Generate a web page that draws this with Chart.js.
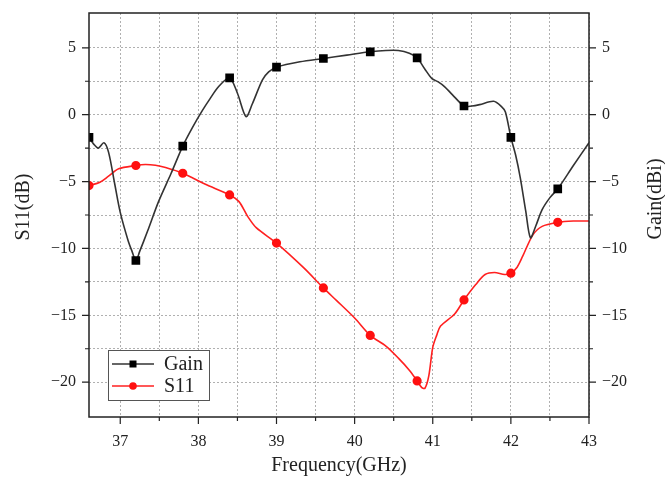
<!DOCTYPE html>
<html>
<head>
<meta charset="utf-8">
<script src="https://cdn.jsdelivr.net/npm/chart.js@4.4.0/dist/chart.umd.min.js"></script>
<style>
  html, body { margin: 0; padding: 0; background: #fff; }
  #wrap { width: 665px; height: 477px; }
</style>
</head>
<body>
<div id="wrap"><canvas id="c"></canvas></div>
<script>
// Gain (dBi)
const gainFreq = [36.6, 36.66, 36.72, 36.79, 36.85, 36.93, 37.0, 37.1, 37.15, 37.2, 37.25, 37.35, 37.49, 37.65, 37.8,
  37.92, 38.05, 38.15, 38.26, 38.4, 38.5, 38.61, 38.69, 38.82, 38.9, 39.0, 39.3, 39.6, 39.9, 40.2, 40.4, 40.56, 40.7,
  40.8, 40.9, 40.99, 41.07, 41.15, 41.25, 41.4, 41.5, 41.6, 41.78, 41.88, 41.93, 42.0, 42.06, 42.12, 42.19, 42.25,
  42.32, 42.4, 42.5, 42.6, 42.8, 43.0];
const gainVals = [-1.7, -2.2, -2.5, -2.1, -2.8, -5.2, -7.3, -9.4, -10.2, -10.9, -10.2, -8.7, -6.5, -4.4, -2.35,
  -1.0, 0.3, 1.2, 2.1, 2.75, 1.6, -0.15, 0.8, 2.6, 3.2, 3.55, 3.95, 4.2, 4.45, 4.7, 4.8, 4.8, 4.6,
  4.25, 3.4, 2.7, 2.45, 2.1, 1.5, 0.65, 0.65, 0.75, 1.0, 0.6, 0.2, -1.7, -3.0, -4.7, -7.2, -9.2,
  -8.3, -7.1, -6.2, -5.55, -3.8, -2.1];

// S11 (dB)
const s11Freq = [36.6, 36.74, 36.85, 36.98, 37.2, 37.32, 37.45, 37.58, 37.8, 38.09, 38.4, 38.52, 38.63, 38.74, 39.0,
  39.34, 39.6, 39.77, 40.0, 40.2, 40.4, 40.56, 40.7, 40.8, 40.86, 40.9, 40.95, 41.0, 41.05, 41.1, 41.28, 41.4,
  41.55, 41.67, 41.79, 41.92, 42.0, 42.08, 42.15, 42.28, 42.4, 42.6, 42.8, 43.0];
const s11Vals = [-5.3, -5.05, -4.6, -4.05, -3.8, -3.72, -3.78, -3.95, -4.38, -5.2, -6.0, -6.5, -7.6, -8.45, -9.6,
  -11.4, -12.95, -13.9, -15.2, -16.5, -17.3, -18.2, -19.1, -19.9, -20.4, -20.45, -19.5, -17.4, -16.5, -15.8, -14.9, -13.85,
  -12.7, -11.95, -11.8, -11.95, -11.85, -11.4, -10.6, -9.0, -8.35, -8.05, -7.95, -7.95];

// symbols are only drawn at these frequencies
const markerFreq = [36.6, 37.2, 37.8, 38.4, 39.0, 39.6, 40.2, 40.8, 41.4, 42.0, 42.6];

const xGrid = [37, 37.5, 38, 38.5, 39, 39.5, 40, 40.5, 41, 41.5, 42, 42.5, 43];
const xLabels = [37, 38, 39, 40, 41, 42, 43];
const yGrid = [5, 2.5, 0, -2.5, -5, -7.5, -10, -12.5, -15, -17.5, -20];
const yLabels = [5, 0, -5, -10, -15, -20];

const TICK_FONT = { family: '"Liberation Serif", "DejaVu Serif", serif', size: 16 };
const TEXT_FONT = '20px "Liberation Serif", "DejaVu Serif", serif';

const toPoints = (xs, ys) => xs.map((x, i) => ({ x: x, y: ys[i] }));
const isMarker = ctx => markerFreq.includes(ctx.raw && ctx.raw.x);

const fixTicks = values => scale => { scale.ticks = values.map(v => ({ value: v })); };
const minus = v => String(v).replace('-', '\u2212');
// fixed box size, and no extra room asked for overflowing labels
const fixSize = (w, h) => s => {
  if (w) s.width = w;
  if (h) s.height = h;
  s.paddingTop = s.paddingBottom = s.paddingLeft = s.paddingRight = 0;
};

// frame, tick marks, axis titles and the inset legend
const decorations = {
  id: 'decorations',
  afterDraw(chart) {
    const { ctx, chartArea: a } = chart;
    const { x, y, y2 } = chart.scales;
    ctx.save();
    ctx.strokeStyle = '#222';
    ctx.lineWidth = 1.5;
    ctx.strokeRect(a.left, a.top, a.right - a.left, a.bottom - a.top);

    ctx.lineWidth = 1.2;
    ctx.beginPath();
    xGrid.forEach(v => {
      const px = x.getPixelForValue(v);
      const len = xLabels.includes(v) ? 7 : 4;
      ctx.moveTo(px, a.bottom); ctx.lineTo(px, a.bottom + len);
    });
    yGrid.forEach(v => {
      const len = yLabels.includes(v) ? 7 : 4;
      const py = y.getPixelForValue(v);
      ctx.moveTo(a.left, py); ctx.lineTo(a.left - len, py);
      const py2 = y2.getPixelForValue(v);
      ctx.moveTo(a.right, py2); ctx.lineTo(a.right + len, py2);
    });
    ctx.stroke();

    // axis titles
    ctx.fillStyle = '#222';
    ctx.font = TEXT_FONT;
    ctx.textAlign = 'center';
    ctx.textBaseline = 'middle';
    ctx.fillText('Frequency(GHz)', (a.left + a.right) / 2, 466);
    ctx.save();
    ctx.translate(24, 207);
    ctx.rotate(-Math.PI / 2);
    ctx.fillText('S11(dB)', 0, 0);
    ctx.restore();
    ctx.save();
    ctx.translate(656, 199);
    ctx.rotate(-Math.PI / 2);
    ctx.fillText('Gain(dBi)', 0, 0);
    ctx.restore();

    // legend box
    const lx = 108, ly = 350, lw = 101, lh = 50;
    ctx.fillStyle = '#fff';
    ctx.fillRect(lx, ly, lw, lh);
    ctx.strokeStyle = '#555';
    ctx.lineWidth = 1;
    ctx.strokeRect(lx + 0.5, ly + 0.5, lw, lh);
    chart.data.datasets.forEach((ds, i) => {
      const cy = ly + 14 + i * 22;
      ctx.strokeStyle = ds.borderColor;
      ctx.lineWidth = 1.6;
      ctx.beginPath();
      ctx.moveTo(lx + 4, cy); ctx.lineTo(lx + 46, cy);
      ctx.stroke();
      ctx.fillStyle = ds.pointBackgroundColor;
      if (ds.pointStyle === 'rect') {
        ctx.fillRect(lx + 25 - 3.5, cy - 3.5, 7, 7);
      } else {
        ctx.beginPath();
        ctx.arc(lx + 25, cy, 3.8, 0, Math.PI * 2);
        ctx.fill();
      }
      ctx.fillStyle = '#222';
      ctx.textAlign = 'left';
      ctx.fillText(ds.label, lx + 56, cy + 1);
    });
    ctx.restore();
  }
};

new Chart(document.getElementById('c'), {
  type: 'line',
  data: {
    datasets: [
      {
        label: 'Gain',
        data: toPoints(gainFreq, gainVals),
        yAxisID: 'y2',
        borderColor: '#333333',
        borderWidth: 1.6,
        pointStyle: 'rect',
        pointBackgroundColor: '#000000',
        pointBorderColor: '#000000',
        pointRadius: ctx => isMarker(ctx) ? 5 : 0,
        tension: 0.3,
      },
      {
        label: 'S11',
        data: toPoints(s11Freq, s11Vals),
        yAxisID: 'y',
        borderColor: '#ff2020',
        borderWidth: 1.6,
        pointStyle: 'circle',
        pointBackgroundColor: '#ff1010',
        pointBorderColor: '#ff1010',
        pointRadius: ctx => isMarker(ctx) ? 3.8 : 0,
        tension: 0.3,
      },
    ],
  },
  options: {
    responsive: true,
    maintainAspectRatio: false,
    animation: false,
    layout: { autoPadding: false, padding: { top: 13, left: 0, right: 0, bottom: 0 } },
    plugins: { legend: { display: false }, tooltip: { enabled: false } },
    elements: { point: { hitRadius: 0, hoverRadius: 0 } },
    scales: {
      x: {
        type: 'linear',
        min: 36.6,
        max: 43,
        afterBuildTicks: fixTicks(xGrid),
        afterFit: fixSize(0, 60),
        grid: { color: '#b0b0b0', lineWidth: 1, drawTicks: false },
        border: { display: false, dash: [2, 2] },
        ticks: {
          padding: 15,
          color: '#222',
          font: TICK_FONT,
          maxRotation: 0,
          autoSkip: false,
          callback: v => xLabels.includes(v) ? String(v) : '',
        },
      },
      y: {
        position: 'left',
        min: -22.6,
        max: 7.6,
        afterBuildTicks: fixTicks(yGrid),
        afterFit: fixSize(89, 0),
        grid: { color: '#b0b0b0', lineWidth: 1, drawTicks: false },
        border: { display: false, dash: [2, 2] },
        ticks: {
          padding: 13,
          color: '#222',
          font: TICK_FONT,
          autoSkip: false,
          callback: v => yLabels.includes(v) ? minus(v) : '',
        },
      },
      y2: {
        position: 'right',
        min: -22.6,
        max: 7.6,
        afterBuildTicks: fixTicks(yGrid),
        afterFit: fixSize(76, 0),
        grid: { drawOnChartArea: false, drawTicks: false },
        border: { display: false },
        ticks: {
          padding: 13,
          color: '#222',
          font: TICK_FONT,
          autoSkip: false,
          callback: v => yLabels.includes(v) ? minus(v) : '',
        },
      },
    },
  },
  plugins: [decorations],
});
</script>
</body>
</html>
